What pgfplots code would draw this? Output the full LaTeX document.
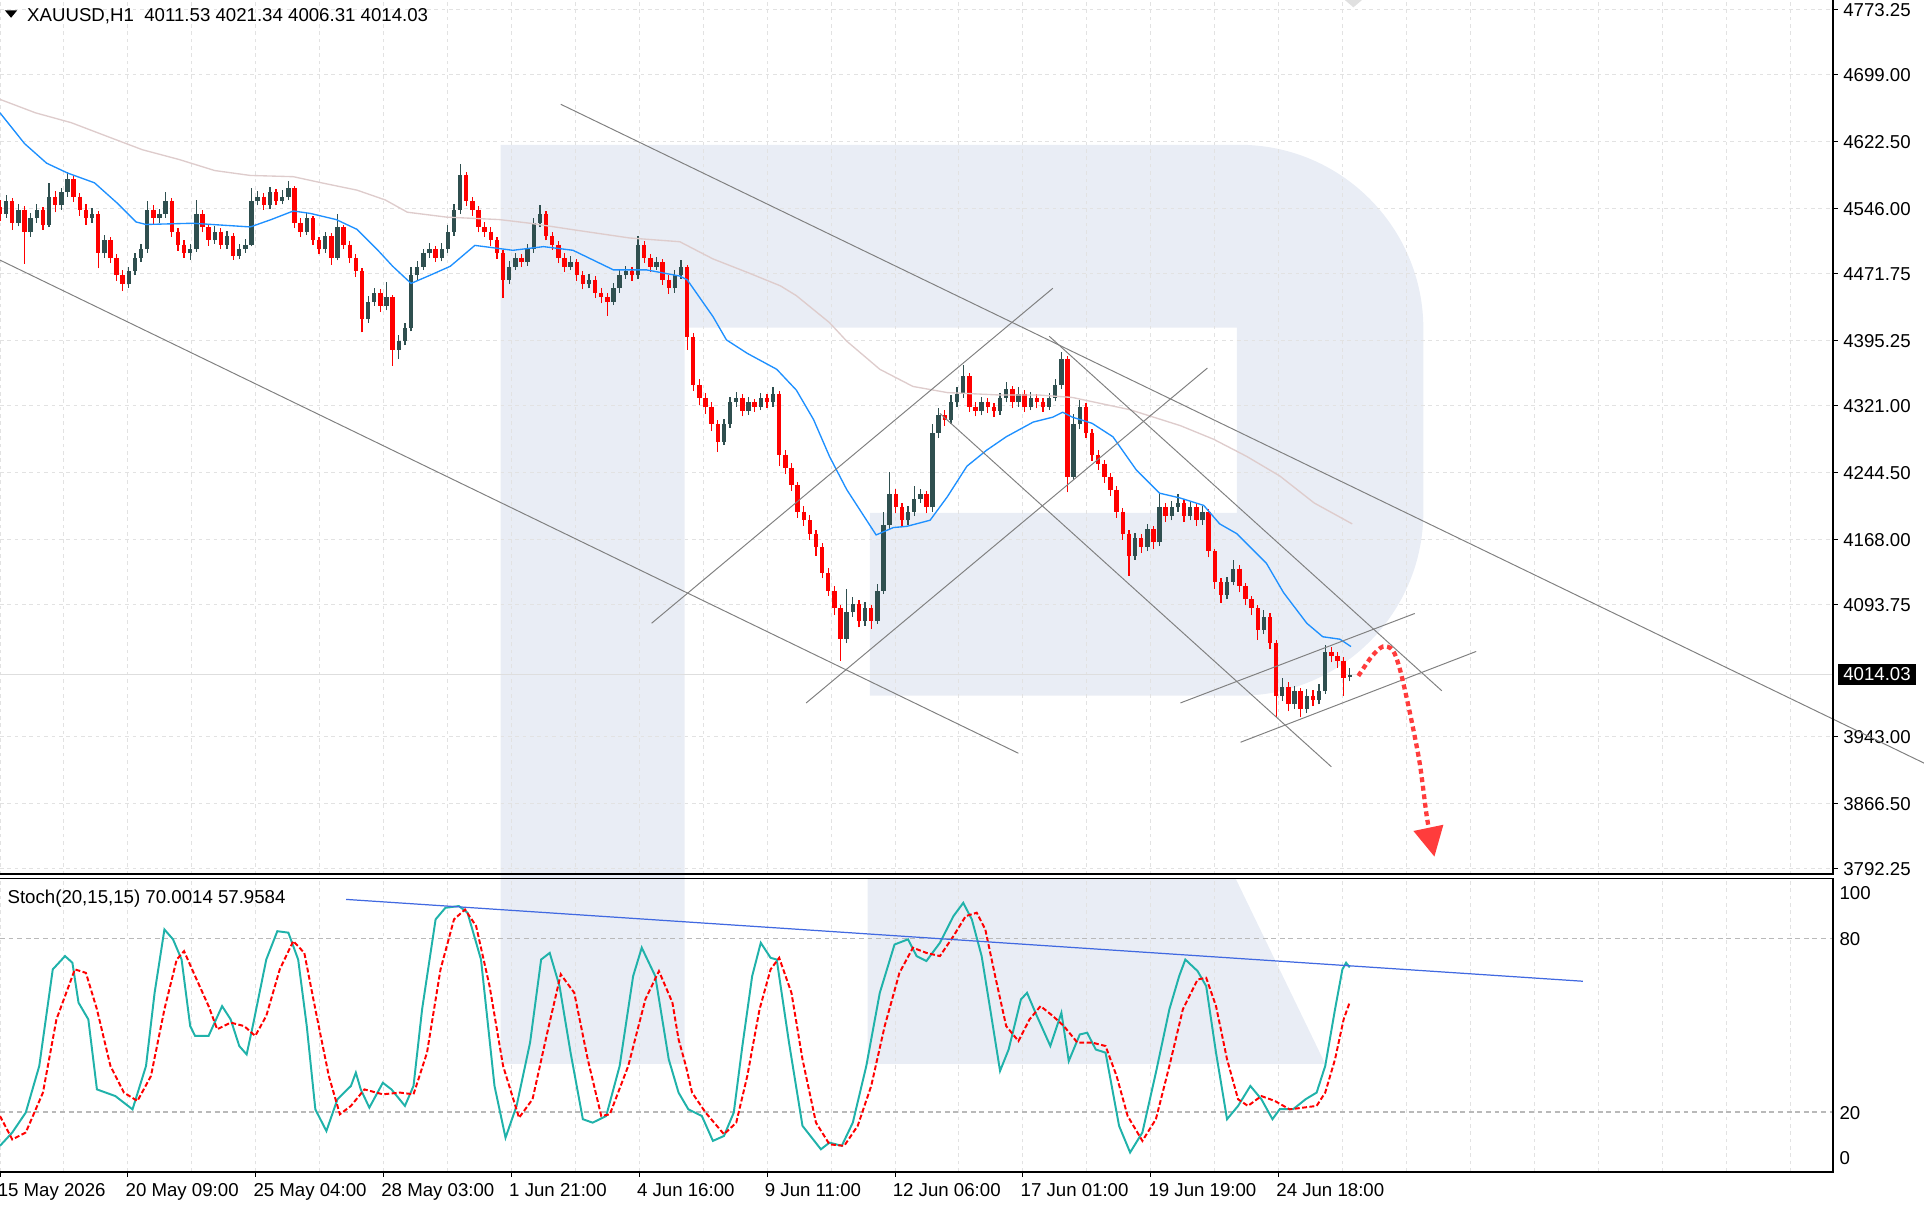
\documentclass[border=0pt]{standalone}
\usepackage{fontspec}
\setmainfont{Liberation Sans}
\usepackage{pgfplots}
\pgfplotsset{compat=1.18}
\usepackage{pgfplotstable}
\usetikzlibrary{arrows.meta}
\definecolor{bull}{RGB}{47,79,79}
\definecolor{bear}{RGB}{255,0,0}
\definecolor{mablue}{RGB}{30,144,255}
\definecolor{mapink}{RGB}{222,204,204}
\definecolor{tline}{RGB}{128,128,128}
\definecolor{stteal}{RGB}{32,178,170}
\definecolor{stred}{RGB}{255,0,0}
\definecolor{stblue}{RGB}{65,105,225}
\definecolor{gridc}{RGB}{226,226,226}
\definecolor{levelc}{RGB}{185,185,185}
\definecolor{wm}{RGB}{233,237,245}
\definecolor{arrowred}{RGB}{255,60,60}
\newcommand{\f}{\fontsize{15.2}{17}\selectfont}

\pgfplotstableread{
x o h l c
0 4548 4556 4532 4540
5 4540 4562 4536 4555
10 4555 4558 4522 4530
15 4530 4552 4526 4545
20 4545 4549 4483 4520
25 4520 4541 4514 4535
30 4535 4551 4530 4545
35 4545 4548 4522 4528
40 4528 4575 4525 4560
45 4560 4566 4542 4550
50 4550 4570 4545 4565
55 4565 4588 4560 4580
60 4580 4583 4554 4560
65 4560 4564 4538 4545
70 4545 4551 4528 4535
75 4535 4547 4530 4540
80 4540 4543 4478 4495
85 4495 4516 4490 4510
90 4510 4514 4484 4490
95 4490 4494 4464 4470
100 4470 4476 4452 4460
105 4460 4480 4456 4475
110 4475 4496 4470 4490
115 4490 4506 4485 4500
120 4500 4555 4496 4545
125 4545 4550 4528 4535
130 4535 4546 4530 4540
135 4540 4565 4536 4555
140 4555 4558 4514 4520
145 4520 4524 4498 4505
150 4505 4510 4490 4495
155 4495 4506 4488 4500
160 4500 4556 4497 4540
165 4540 4545 4519 4525
170 4525 4529 4504 4510
175 4510 4526 4506 4520
180 4520 4524 4500 4505
185 4505 4521 4500 4515
190 4515 4518 4488 4492
195 4492 4506 4489 4500
200 4500 4511 4496 4505
205 4505 4570 4503 4555
210 4555 4566 4550 4560
215 4560 4564 4545 4550
220 4550 4571 4546 4565
225 4565 4569 4550 4555
230 4555 4567 4551 4560
235 4560 4578 4556 4570
240 4570 4572 4524 4530
245 4530 4535 4514 4520
250 4520 4541 4516 4535
255 4535 4538 4505 4510
260 4510 4514 4494 4500
265 4500 4520 4496 4515
270 4515 4518 4482 4490
275 4490 4540 4487 4525
280 4525 4528 4500 4505
285 4505 4509 4484 4490
290 4490 4494 4468 4475
295 4475 4478 4405 4420
300 4420 4446 4416 4440
305 4440 4456 4435 4450
310 4450 4454 4428 4435
315 4435 4462 4430 4445
320 4445 4448 4367 4385
325 4385 4402 4375 4395
330 4395 4416 4390 4410
335 4410 4480 4406 4470
340 4470 4486 4465 4480
345 4480 4500 4476 4495
350 4495 4507 4490 4500
355 4500 4504 4485 4490
360 4490 4507 4486 4500
365 4500 4527 4496 4520
370 4520 4552 4515 4545
375 4545 4597 4540 4585
380 4585 4588 4549 4555
385 4555 4560 4538 4545
390 4545 4549 4519 4525
395 4525 4531 4514 4520
400 4520 4525 4504 4510
405 4510 4514 4489 4495
410 4495 4499 4444 4465
415 4465 4486 4460 4480
420 4480 4496 4476 4490
425 4490 4494 4480 4485
430 4485 4506 4481 4500
435 4500 4536 4496 4530
440 4530 4550 4525 4540
445 4540 4543 4510 4515
450 4515 4520 4499 4505
455 4505 4509 4484 4490
460 4490 4495 4474 4480
465 4480 4492 4476 4485
470 4485 4489 4464 4470
475 4470 4475 4454 4460
480 4460 4472 4455 4465
485 4465 4469 4444 4450
490 4450 4456 4438 4445
495 4445 4450 4424 4440
500 4440 4461 4436 4455
505 4455 4476 4450 4470
510 4470 4481 4466 4475
515 4475 4479 4464 4470
520 4470 4515 4466 4505
525 4505 4509 4484 4490
530 4490 4494 4474 4480
535 4480 4491 4476 4485
540 4485 4489 4459 4465
545 4465 4470 4449 4455
550 4455 4476 4450 4470
555 4470 4487 4466 4480
560 4480 4482 4385 4400
565 4400 4404 4338 4345
570 4345 4352 4322 4330
575 4330 4336 4312 4320
580 4320 4325 4292 4300
585 4300 4305 4268 4280
590 4280 4306 4276 4300
595 4300 4331 4296 4325
600 4325 4337 4320 4330
605 4330 4334 4309 4315
610 4315 4331 4311 4325
615 4325 4329 4314 4320
620 4320 4336 4316 4330
625 4330 4334 4319 4325
630 4325 4342 4320 4335
635 4335 4338 4252 4265
640 4265 4270 4243 4250
645 4250 4256 4224 4230
650 4230 4234 4193 4200
655 4200 4206 4184 4190
660 4190 4196 4168 4175
665 4175 4179 4150 4160
670 4160 4164 4124 4130
675 4130 4136 4104 4110
680 4110 4115 4082 4090
685 4090 4094 4030 4055
690 4055 4112 4050 4085
695 4085 4103 4080 4095
700 4095 4099 4068 4075
705 4075 4097 4070 4090
710 4090 4094 4066 4075
715 4075 4117 4072 4110
720 4110 4200 4106 4185
725 4185 4245 4180 4220
730 4220 4226 4198 4205
735 4205 4210 4182 4190
740 4190 4207 4185 4200
745 4200 4229 4195 4215
750 4215 4226 4210 4220
755 4220 4224 4198 4205
760 4205 4300 4200 4290
765 4290 4318 4284 4310
770 4310 4316 4298 4305
775 4305 4333 4300 4325
780 4325 4342 4320 4335
785 4335 4368 4330 4355
790 4355 4358 4314 4320
795 4320 4325 4309 4315
800 4315 4331 4310 4325
805 4325 4330 4313 4320
810 4320 4324 4308 4315
815 4315 4336 4311 4330
820 4330 4348 4325 4340
825 4340 4344 4318 4325
830 4325 4342 4320 4335
835 4335 4339 4314 4320
840 4320 4337 4316 4330
845 4330 4335 4318 4325
850 4325 4330 4314 4320
855 4320 4336 4316 4330
860 4330 4352 4326 4345
865 4345 4382 4340 4375
870 4375 4378 4222 4240
875 4240 4312 4236 4300
880 4300 4328 4294 4320
885 4320 4324 4284 4290
890 4290 4294 4258 4265
895 4265 4270 4248 4255
900 4255 4259 4233 4240
905 4240 4244 4218 4225
910 4225 4229 4193 4200
915 4200 4204 4168 4175
920 4175 4179 4127 4150
925 4150 4176 4145 4170
930 4170 4175 4153 4160
935 4160 4186 4155 4180
940 4180 4184 4158 4165
945 4165 4220 4161 4205
950 4205 4210 4188 4195
955 4195 4212 4190 4205
960 4205 4220 4200 4210
965 4210 4214 4188 4195
970 4195 4211 4190 4205
975 4205 4209 4184 4190
980 4190 4207 4185 4200
985 4200 4203 4148 4155
990 4155 4158 4112 4120
995 4120 4124 4096 4105
1000 4105 4126 4100 4120
1005 4120 4145 4116 4135
1010 4135 4139 4108 4115
1015 4115 4119 4093 4100
1020 4100 4104 4082 4090
1025 4090 4094 4054 4065
1030 4065 4088 4060 4080
1035 4080 4084 4043 4050
1040 4050 4054 3966 3990
1045 3990 4010 3984 4000
1050 4000 4005 3972 3980
1055 3980 4001 3975 3995
1060 3995 3999 3965 3975
1065 3975 3997 3970 3990
1070 3990 3996 3978 3985
1075 3985 4003 3980 3995
1080 3995 4048 3992 4040
1085 4040 4046 4028 4035
1090 4035 4040 4022 4030
1095 4030 4034 3990 4010
1100 4011.53 4021.34 4006.31 4014.03
}\candles

\begin{document}
\begin{tikzpicture}[x=1pt,y=1pt]
\path[use as bounding box] (0pt,0pt) rectangle (1568pt,-985pt);
% watermark logo
\fill[wm] (408pt,-118pt) -- (1010pt,-118pt) arc[start angle=90,end angle=0,radius=150pt]
  -- (1160pt,-417pt) arc[start angle=0,end angle=-90,radius=150pt]
  -- (709pt,-567pt) -- (709pt,-418pt) -- (1008pt,-418pt) -- (1008pt,-267pt) -- (558pt,-267pt)
  -- (558pt,-867pt) -- (408pt,-867pt) -- cycle;
\fill[wm] (707pt,-716pt) -- (1007pt,-716pt) -- (1080pt,-867pt) -- (707pt,-867pt) -- cycle;

% ---------------- main price panel
\begin{axis}[
  at={(0pt,0pt)}, anchor=north west, scale only axis,
  width=1493.5pt, height=712.5pt,
  xmin=0, xmax=1493.5, ymin=3785.9, ymax=4784.5,
  axis line style={draw=none}, clip=false,
  xtick={0,52.1,...,1460}, xticklabels={}, xtick style={draw=none},
  ytick={3792.25,3866.5,3943,4093.75,4168,4244.5,4321,4395.25,4471.75,4546,4622.5,4699,4773.25},
  yticklabels={3792.25,3866.50,3943.00,4093.75,4168.00,4244.50,4321.00,4395.25,4471.75,4546.00,4622.50,4699.00,4773.25},
  ytick pos=right, yticklabel pos=right,
  tick align=outside, major tick length=4pt,
  ytick style={black, line width=0.8pt},
  xmajorgrids, ymajorgrids,
  major grid style={draw=gridc, line width=0.8pt, dash pattern=on 3pt off 3pt},
  yticklabel style={anchor=west, inner sep=0pt, font=\f, xshift=4.5pt},
]
% bid line
\addplot[black!13, line width=0.8pt] coordinates {(0,4014.03) (1493.5,4014.03)};
% candles: wicks and bodies
\addplot[draw=bull, line width=1pt, quiver={u=0, v=\thisrow{h}-\thisrow{l}},
  x filter/.expression={\thisrow{c}>\thisrow{o} ? x : nan}] table[x=x, y=l] {\candles};
\addplot[draw=bear, line width=1pt, quiver={u=0, v=\thisrow{h}-\thisrow{l}},
  x filter/.expression={\thisrow{c}>\thisrow{o} ? nan : x}] table[x=x, y=l] {\candles};
\addplot[draw=bull, line width=3.6pt, quiver={u=0, v=\thisrow{c}-\thisrow{o}},
  x filter/.expression={\thisrow{c}>\thisrow{o} ? x : nan}] table[x=x, y=o] {\candles};
\addplot[draw=bear, line width=3.6pt, quiver={u=0, v=\thisrow{c}-\thisrow{o}},
  x filter/.expression={\thisrow{c}>\thisrow{o} ? nan : x}] table[x=x, y=o] {\candles};
% moving averages
\addplot[mapink, line width=1.1pt] coordinates {(0,4671)(29,4655.6)(58,4644.4)(87,4628.9)(116,4613.5)(146,4602.3)(175,4589.7)(204,4584.1)(239,4582.7)(262,4575.7)(291,4567.3)(314,4556.1)(332,4542.1)(364,4536.5)(407,4533.7)(432,4529.5)(472,4521.1)(513,4512.7)(554,4508.4)(581,4488.8)(609,4473.4)(636,4458)(649,4446.8)(676,4416)(690,4394.9)(717,4362.7)(744,4343.1)(772,4336.1)(815,4333.3)(847,4333.3)(874,4330.5)(921,4316.5)(962,4298.3)(989,4282.8)(1016,4263.2)(1043,4240.8)(1071,4210)(1102,4186.1)};
\addplot[mablue, line width=1.1pt] coordinates {(0,4655.6)(20,4620.5)(38,4598.1)(55,4586.9)(77,4575.7)(96,4551.9)(111,4530.9)(119,4528.1)(157,4529.5)(204,4525.3)(221,4533.7)(239,4543.5)(253,4540.7)(274,4533.7)(291,4522.5)(308,4498.6)(320,4480.4)(335,4460.8)(349,4469.2)(367,4480.4)(387,4504.2)(418,4498.6)(443,4502.8)(467,4498.6)(500,4476.2)(527,4476.2)(554,4469.2)(560,4465)(581,4423)(592,4396.3)(609,4380.9)(633,4362.7)(649,4338.9)(663,4305.3)(676,4263.2)(690,4225.4)(701,4201.6)(714,4173.5)(728,4181.9)(739,4183.3)(758,4190.3)(772,4217)(788,4252)(804,4270.2)(820,4285.6)(842,4302.4)(858,4308)(866,4313.6)(874,4308)(890,4301)(907,4285.6)(926,4247.8)(945,4221.2)(962,4215.6)(981,4207.2)(994,4186.1)(1008,4174.9)(1032,4141.3)(1046,4107.7)(1065,4072.6)(1078,4057.2)(1092,4054.4)(1101,4046)};
% trend lines
\addplot[tline, line width=0.8pt] coordinates {(0,4487.4)(830,3924.1)};
\addplot[tline, line width=0.8pt] coordinates {(457,4665.4)(1568,3912.9)};
\addplot[tline, line width=0.8pt] coordinates {(531,4072.6)(858,4455.2)};
\addplot[tline, line width=0.8pt] coordinates {(657,3981.6)(984,4364.1)};
\addplot[tline, line width=0.8pt] coordinates {(766,4312.3)(1085,3908.7)};
\addplot[tline, line width=0.8pt] coordinates {(855,4400.5)(1175,3995.5)};
\addplot[tline, line width=0.8pt] coordinates {(962,3981.6)(1153,4083.8)};
\addplot[tline, line width=0.8pt] coordinates {(1011,3936.7)(1203,4040.4)};
% forecast arrow
\addplot[arrowred, line width=3.5pt, dash pattern=on 4pt off 3pt, smooth,
  -{Triangle[width=24pt,length=24pt]}] coordinates {(1107,4012.4)(1118,4034.8)(1127,4046)(1135,4041.8)(1141,4019.4)(1149,3970.4)(1157,3912.9)(1163,3850)(1169,3806)};
% borders
\draw[line width=1.5pt] (rel axis cs:0,0) -- (rel axis cs:1,0) -- (rel axis cs:1,1);
\end{axis}

% ---------------- stochastic panel
\begin{axis}[
  at={(0pt,-716pt)}, anchor=north west, scale only axis,
  width=1493.5pt, height=239pt,
  xmin=0, xmax=1493.5, ymin=-0.7, ymax=100.7,
  axis line style={draw=none}, clip=false,
  xtick={0,104.2,...,1043},
  xticklabels={15 May 2026,20 May 09:00,25 May 04:00,28 May 03:00,1 Jun 21:00,4 Jun 16:00,9 Jun 11:00,12 Jun 06:00,17 Jun 01:00,19 Jun 19:00,24 Jun 18:00},
  minor xtick={52.1,104.2,...,1460},
  xtick pos=bottom, tick align=outside, major tick length=4pt, minor tick length=0pt,
  xtick style={black, line width=0.8pt},
  ytick=\empty,
  xmajorgrids, xminorgrids,
  major grid style={draw=gridc, line width=0.8pt, dash pattern=on 3pt off 3pt},
  minor grid style={draw=gridc, line width=0.8pt, dash pattern=on 3pt off 3pt},
  xticklabel style={anchor=north west, inner sep=0pt, font=\f, xshift=-2pt, yshift=-5.5pt},
]
\addplot[levelc, line width=1pt, dash pattern=on 4pt off 3pt] coordinates {(0,80)(1493.5,80)};
\addplot[levelc, line width=1pt, dash pattern=on 4pt off 3pt] coordinates {(0,20)(1493.5,20)};
\addplot[stteal, line width=1.6pt] coordinates {(0,8.3)(10,12.9)(21,19.8)(32,35.9)(43,69.3)(53,73.9)(59,71.6)(64,57.8)(72,52)(79,27.8)(94,25.5)(108,20.9)(119,35.9)(126,61.2)(134,83.1)(141,79.7)(148,72.7)(155,49.7)(159,46.3)(170,46.3)(181,56.6)(188,52)(195,42.8)(201,39.9)(206,49.7)(217,72.7)(226,82.5)(235,82)(243,72.7)(250,49.7)(257,20.9)(266,13.4)(275,24.4)(286,29)(290,33.6)(294,27.8)(301,21.5)(312,30.1)(319,27.8)(330,22.1)(337,29)(344,55.5)(355,86.6)(363,90.6)(374,91.2)(381,88.9)(392,72.7)(403,29)(412,11.1)(421,22.1)(432,44)(441,72.7)(448,75)(456,63.5)(465,40.5)(475,17.5)(483,16.3)(494,18.6)(505,35.9)(516,67)(523,76.8)(534,67)(545,38.2)(553,26.7)(561,20.9)(572,18.6)(581,10)(590,11.7)(598,19.8)(605,42.8)(613,67)(620,78.5)(628,73.3)(633,72.7)(643,44)(654,15.2)(669,7.1)(676,9.4)(686,8.3)(695,16.3)(706,35.9)(717,61.2)(729,77.9)(740,79.7)(747,73.9)(755,72.2)(766,78.5)(777,87.7)(785,92.3)(792,86.6)(800,73.9)(807,55.5)(815,34.2)(822,41.6)(832,58.9)(837,61.2)(845,53.2)(856,42.8)(865,54.3)(871,37.6)(880,46.8)(886,47.4)(893,41.6)(901,40.5)(912,15.2)(921,6)(931,12.9)(942,33.6)(953,55.5)(961,67)(966,72.7)(976,68.7)(983,63.5)(991,40.5)(1000,17.5)(1009,22.1)(1019,29)(1028,24.4)(1037,17.5)(1043,21)(1054,21)(1064,24.4)(1073,26.7)(1080,35.9)(1088,55.5)(1094,69.3)(1097,71.6)(1100,70)};
\addplot[stred, line width=1.6pt, dash pattern=on 4pt off 2pt] coordinates {(0,18.6)(10,10.5)(21,12.9)(35,26.7)(46,52)(61,69.3)(70,68.1)(79,55.5)(90,35.9)(101,26.7)(112,23.8)(123,32.4)(134,55.5)(144,72.7)(150,75.6)(159,67)(170,56.6)(177,48.6)(188,50.9)(199,49.7)(208,46.3)(217,53.2)(228,69.3)(239,79.1)(248,75)(257,55.5)(268,32.4)(277,19.2)(286,22.1)(297,27.8)(312,26.1)(326,26.7)(337,26.1)(348,40.5)(359,69.3)(370,86.6)(379,90)(388,84.3)(399,63.5)(410,35.9)(423,18)(434,24.4)(446,47.4)(457,67.6)(468,61.2)(479,38.2)(490,18.6)(497,19.2)(512,35.9)(526,59)(537,68.7)(548,57.8)(553,45.1)(559,35.9)(564,26.7)(575,19.8)(590,12.3)(600,16.3)(609,32.4)(619,55.5)(628,69.3)(635,73.3)(645,61.2)(654,38.2)(665,16.3)(676,8.8)(688,8.3)(699,15.2)(710,29)(721,49.7)(733,68.1)(744,76.8)(755,75)(766,73.9)(777,80.8)(787,87.7)(796,88.9)(803,83.1)(811,67)(820,49.7)(830,44.5)(839,52)(848,56.6)(858,53.2)(867,49.7)(878,44)(890,44)(901,42.8)(910,32.4)(919,18.6)(931,10)(942,17.5)(953,35.9)(964,55.5)(976,65.8)(983,66.4)(991,56.6)(1000,38.2)(1009,24.4)(1017,22.1)(1028,25.5)(1039,23.8)(1051,20.9)(1062,21.5)(1073,22.1)(1080,26.7)(1088,38.2)(1095,52)(1100,57.96)};
\addplot[stblue, line width=1pt] coordinates {(282,93.5)(1290,65.2)};
\draw[line width=1.5pt] (rel axis cs:0,1) -- (rel axis cs:1,1) -- (rel axis cs:1,0) -- (rel axis cs:0,0);
\end{axis}

% texts and small marks
\fill[black!12] (1096pt,0pt) -- (1110pt,0pt) -- (1103pt,-6pt) -- cycle;
\fill (4pt,-8.5pt) -- (14pt,-8.5pt) -- (9pt,-14.5pt) -- cycle;
\node[anchor=base west, inner sep=0pt, font=\f] at (22pt,-17.3pt) {XAUUSD,H1~~4011.53 4021.34 4006.31 4014.03};
\node[anchor=base west, inner sep=0pt, font=\f] at (6pt,-736.5pt) {Stoch(20,15,15) 70.0014 57.9584};
\node[anchor=west, inner sep=0pt, font=\f] at (1499pt,-728pt) {100};
\node[anchor=west, inner sep=0pt, font=\f] at (1499pt,-765pt) {80};
\node[anchor=west, inner sep=0pt, font=\f] at (1499pt,-907pt) {20};
\node[anchor=west, inner sep=0pt, font=\f] at (1499pt,-944pt) {0};
\node[anchor=west, fill=black, text=white, inner xsep=4pt, inner ysep=0pt, minimum height=17pt, font=\f] at (1498pt,-549.7pt) {4014.03};
\end{tikzpicture}
\end{document}
